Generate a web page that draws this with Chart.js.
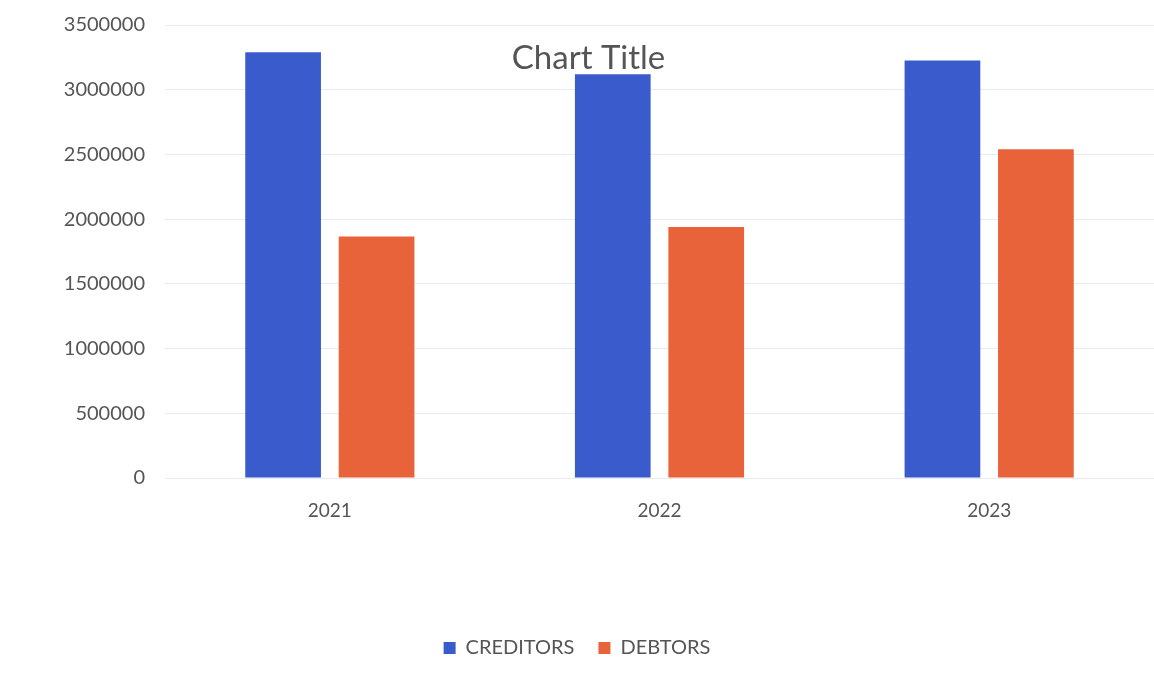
<!DOCTYPE html>
<html>
<head>
<meta charset="utf-8">
<title>Creditors and Debtors</title>
<script src="https://cdn.jsdelivr.net/npm/chart.js@4/dist/chart.umd.min.js"></script>
<style>
  html, body { margin: 0; padding: 0; background: #ffffff; }
  #wrap { position: relative; width: 1154px; height: 683px; }
</style>
</head>
<body>
<div id="wrap"><canvas id="chart" width="1154" height="683"></canvas></div>
<script>
// Years on the category axis
const years = ['2021', '2022', '2023'];

// Series values
const creditors = [3290000, 3120000, 3225000];
const debtors = [1865000, 1940000, 2540000];

// Value-axis tick labels, bottom to top
const yTickLabels = ['0', '500000', '1000000', '1500000', '2000000', '2500000', '3000000', '3500000'];

const textGrey = '#555555';
const fontFamily = 'Lato, "Open Sans", sans-serif';

// Title drawn over the plot, as in the spreadsheet layout
const overlayTitle = {
  id: 'overlayTitle',
  afterDatasetsDraw(chart) {
    const ctx = chart.ctx;
    ctx.save();
    ctx.font = '33px ' + fontFamily;
    ctx.fillStyle = textGrey;
    ctx.textAlign = 'center';
    ctx.textBaseline = 'alphabetic';
    ctx.fillText('Chart Title', chart.width * 0.51, 69);
    ctx.restore();
  }
};

new Chart(document.getElementById('chart'), {
  type: 'bar',
  data: {
    labels: years,
    datasets: [
      { label: 'CREDITORS', data: creditors, backgroundColor: '#3a5bcc' },
      { label: 'DEBTORS', data: debtors, backgroundColor: '#e8623a' }
    ]
  },
  options: {
    responsive: false,
    animation: false,
    layout: { padding: { top: 25, right: 0, bottom: 15, left: 0 } },
    categoryPercentage: 0.567,
    barPercentage: 0.81,
    scales: {
      x: {
        grid: { display: false },
        border: { display: false },
        ticks: { color: textGrey, font: { family: fontFamily, size: 19 }, padding: 13 },
        afterFit(scale) { scale.height = 136; }
      },
      y: {
        min: 0,
        max: 3500000,
        grid: { color: '#ebe8f0', lineWidth: 1, drawTicks: false },
        border: { display: false },
        ticks: {
          stepSize: 500000,
          color: textGrey,
          font: { family: fontFamily, size: 20 },
          padding: 20,
          callback: (value, index) => yTickLabels[index]
        },
        afterFit(scale) {
          scale.width = 165;
          scale.paddingTop = 0;
          scale.paddingBottom = 0;
        }
      }
    },
    plugins: {
      title: { display: false },
      tooltip: { enabled: false },
      legend: {
        position: 'bottom',
        labels: {
          color: textGrey,
          font: { family: fontFamily, size: 20 },
          boxWidth: 12,
          boxHeight: 12,
          padding: 24
        }
      }
    }
  },
  plugins: [overlayTitle]
});
</script>
</body>
</html>
